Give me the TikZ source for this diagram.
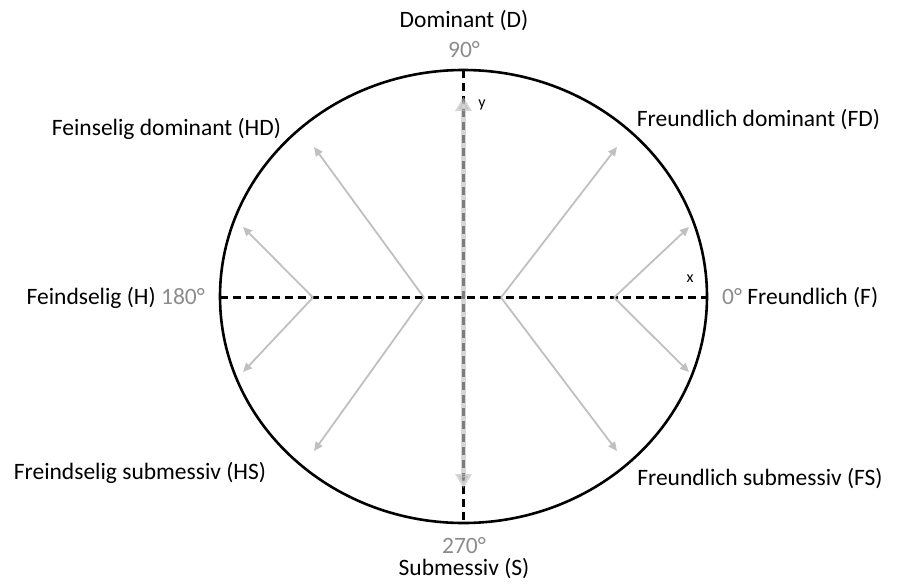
\documentclass[tikz,border=0pt]{standalone}
\usepackage{fontspec}
\setmainfont{Carlito}
\usetikzlibrary{arrows.meta}

\definecolor{arrowgrey}{RGB}{192,192,192}
\definecolor{textgrey}{RGB}{140,140,140}

\tikzset{
    lbl/.style={inner sep=0pt, font=\fontsize{23.5}{27}\selectfont},
    deg/.style={lbl, text=textgrey},
    axis/.style={dashed, line width=2.4pt, dash pattern=on 8pt off 5pt},
    dirarrow/.style={-{Triangle[length=9pt, width=8pt]}, arrowgrey, line width=1.8pt}
}

\begin{document}
\begin{tikzpicture}[x=1pt, y=-1pt]
    \useasboundingbox (0, 0) rectangle (898, 587);

    % circle and axes
    \draw [line width=2.6pt] (463.5, 296.5) ellipse [x radius=243.5, y radius=226.5];
    \coordinate (top) at (463.5, 70);
    \coordinate (bottom) at (463.5, 523);
    \coordinate (left) at (220, 297.5);
    \coordinate (right) at (707, 297.5);
    \draw [axis] (left) -- (right);
    \draw [axis] (top) -- (bottom);
    \coordinate (ytip) at (463.5, 97);
    \coordinate (ybot) at (463.5, 488);
    \draw [{Triangle[length=14pt, width=16pt]}-{Triangle[length=14pt, width=16pt]}, arrowgrey, line width=4.5pt, opacity=0.65] (ybot) -- (ytip);

    % grey direction arrows
    \coordinate (lo) at (313, 297.5);
    \coordinate (li) at (424, 297.5);
    \coordinate (ri) at (501, 297.5);
    \coordinate (ro) at (614, 297.5);
    \coordinate (lo up) at (243, 227);
    \coordinate (lo down) at (243, 372);
    \coordinate (li up) at (314, 147);
    \coordinate (li down) at (314, 451);
    \coordinate (ri up) at (617, 147);
    \coordinate (ri down) at (617, 451);
    \coordinate (ro up) at (689, 227);
    \coordinate (ro down) at (689, 372);
    \foreach \v in {lo, li, ri, ro} {
        \draw [dirarrow] (\v) -- (\v\space up);
        \draw [dirarrow] (\v) -- (\v\space down);
    }

    % labels
    \node [lbl] (dom) at (464, 21) {Dominant (D)};
    \node [deg] (d90) at (464, 50) {90°};
    \node [deg] (d270) at (464, 546) {270°};
    \node [lbl] (sub) at (464, 569) {Submessiv (S)};
    \node [lbl] (hd) at (166.5, 129) {Feinselig dominant (HD)};
    \node [lbl] (fd) at (758.5, 120) {Freundlich dominant (FD)};
    \node [lbl, anchor=east] (h) at (205, 298) {Feindselig (H) \textcolor{textgrey}{180°}};
    \node [lbl, anchor=west] (f) at (722, 298) {\textcolor{textgrey}{0°} Freundlich (F)};
    \node [lbl] (hs) at (140, 473) {Freindselig submessiv (HS)};
    \node [lbl] (fs) at (760, 479) {Freundlich submessiv (FS)};
    \node [inner sep=0pt, font=\fontsize{16}{18}\selectfont] (xlbl) at (690, 279) {x};
    \node [inner sep=0pt, font=\fontsize{16}{18}\selectfont] (ylbl) at (482, 105) {y};
\end{tikzpicture}
\end{document}
